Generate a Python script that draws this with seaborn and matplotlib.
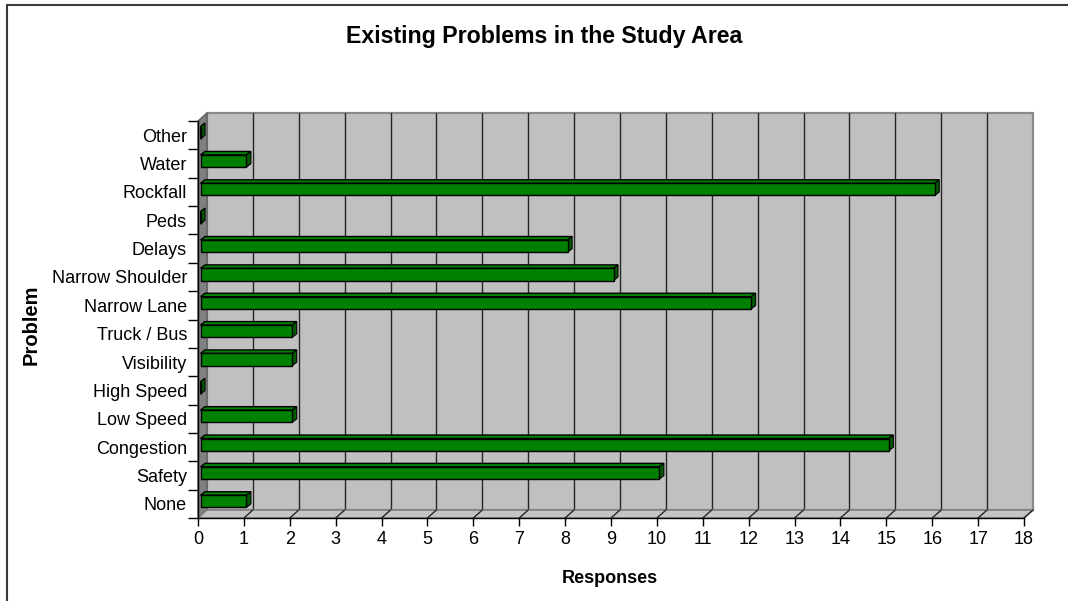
import numpy as np
import pandas as pd
import matplotlib
matplotlib.use("Agg")
import matplotlib.pyplot as plt
import seaborn as sns
from matplotlib.patches import Polygon, Rectangle

# Survey results, listed top to bottom as they appear on the chart
problems = ["Other", "Water", "Rockfall", "Peds", "Delays", "Narrow Shoulder",
            "Narrow Lane", "Truck / Bus", "Visibility", "High Speed",
            "Low Speed", "Congestion", "Safety", "None"]
responses = [0, 1, 16, 0, 8, 9, 12, 2, 2, 0, 2, 15, 10, 1]
x_ticks = list(range(0, 19))

sns.set_theme(style="white")
plt.rcParams["font.family"] = ["Liberation Sans", "DejaVu Sans"]

W, H = 1068, 601
fig = plt.figure(figsize=(W / 100, H / 100), dpi=100)
fig.patch.set_facecolor("white")

# Front plane of the plot box in pixels
left_px, right_px, top_px, bottom_px = 198, 1024, 121, 518
ax = fig.add_axes([left_px / W, (H - bottom_px) / H,
                   (right_px - left_px) / W, (bottom_px - top_px) / H])
ax.set_facecolor("none")

df = pd.DataFrame({"Problem": problems, "Responses": responses})
sns.barplot(data=df, x="Responses", y="Problem", orient="h", color="#008000",
            saturation=1, width=0.43, edgecolor="black", linewidth=1.0,
            ax=ax, zorder=3)
bars = list(ax.patches)

n = len(problems)
ax.set_xlim(0, 18)
ax.set_ylim(n - 0.5, -0.5)

# pixel -> data conversion for the pseudo-3D depth
px_x = (right_px - left_px) / 18.0
px_y = (bottom_px - top_px) / n
wall_dx, wall_dy = 9 / px_x, -8 / px_y        # back wall offset
bar_dx, bar_dy = 2.5 / px_x, -2.5 / px_y      # bar front face offset
dep_dx, dep_dy = 4.5 / px_x, -3.5 / px_y      # bar depth

y_top, y_bot = -0.5, n - 0.5

# back wall
ax.add_patch(Rectangle((wall_dx, y_top + wall_dy), 18, n, facecolor="#c0c0c0",
                       edgecolor="#8a8a8a", lw=1.6, zorder=0.2, clip_on=False))
# gridlines on the wall and the floor
for k in x_ticks[1:-1]:
    ax.plot([k + wall_dx, k + wall_dx], [y_bot + wall_dy, y_top + wall_dy],
            color="#262626", lw=1.0, zorder=0.5, clip_on=False)
# side wall
ax.add_patch(Polygon([(0, y_top), (wall_dx, y_top + wall_dy),
                      (wall_dx, y_bot + wall_dy), (0, y_bot)],
                     closed=True, facecolor="#808080", edgecolor="#606060",
                     lw=1.0, zorder=0.6, clip_on=False))
# floor
ax.add_patch(Polygon([(0, y_bot), (18, y_bot), (18 + wall_dx, y_bot + wall_dy),
                      (wall_dx, y_bot + wall_dy)],
                     closed=True, facecolor="#c4c4c4", edgecolor="#808080",
                     lw=1.2, zorder=0.7, clip_on=False))
for k in x_ticks[1:]:
    ax.plot([k, k + wall_dx], [y_bot, y_bot + wall_dy],
            color="#262626", lw=1.0, zorder=0.8, clip_on=False)

# bars: shift front faces into the box, then add top and end faces
for p in bars:
    p.set_x(p.get_x() + bar_dx)
    p.set_y(p.get_y() + bar_dy)
    x0, y0, w, h = p.get_x(), p.get_y(), p.get_width(), p.get_height()
    top = Polygon([(x0, y0), (x0 + w, y0), (x0 + w + dep_dx, y0 + dep_dy),
                   (x0 + dep_dx, y0 + dep_dy)], closed=True,
                  facecolor="#008000", edgecolor="black", lw=1.0, zorder=2.9)
    end = Polygon([(x0 + w, y0), (x0 + w, y0 + h),
                   (x0 + w + dep_dx, y0 + h + dep_dy),
                   (x0 + w + dep_dx, y0 + dep_dy)], closed=True,
                  facecolor="#005a00", edgecolor="black", lw=0.8, zorder=2.9)
    ax.add_patch(top)
    ax.add_patch(end)

# axes, ticks and labels
for side in ["top", "right"]:
    ax.spines[side].set_visible(False)
for side in ["left", "bottom"]:
    ax.spines[side].set_color("black")
    ax.spines[side].set_linewidth(1.0)
    ax.spines[side].set_zorder(4)

ax.set_xticks(x_ticks)
ax.set_xticklabels([str(t) for t in x_ticks])
ax.tick_params(axis="x", bottom=True, length=6, width=1, color="black",
               labelsize=13, pad=3, labelcolor="black")
ax.set_yticks(range(n))
ax.set_yticklabels(problems)
ax.tick_params(axis="y", which="major", length=0, pad=8, labelsize=13,
               labelcolor="black")
ax.set_yticks(np.arange(-0.5, n, 1.0), minor=True)
ax.tick_params(axis="y", which="minor", left=True, length=7, width=1,
               color="black")
ax.set_xlabel("")
ax.set_ylabel("")
ax.grid(False)

fig.text(544 / W, 1 - 43 / H, "Existing Problems in the Study Area",
         ha="center", va="baseline", fontsize=16.7, fontweight="bold",
         color="black")
fig.text(610 / W, 1 - 583 / H, "Responses", ha="center", va="baseline",
         fontsize=13, fontweight="bold", color="black")
fig.text(31.5 / W, 1 - 325 / H, "Problem", ha="center", va="center",
         rotation=90, fontsize=14.5, fontweight="bold", color="black")

# chart frame
fig.patches.append(Rectangle((7 / W, -0.1), 1.2, 1.1 - 4.5 / H,
                             transform=fig.transFigure, fill=False,
                             edgecolor="#3a3a3a", lw=1.5))

fig.savefig("out.png", dpi=100, facecolor="white")
